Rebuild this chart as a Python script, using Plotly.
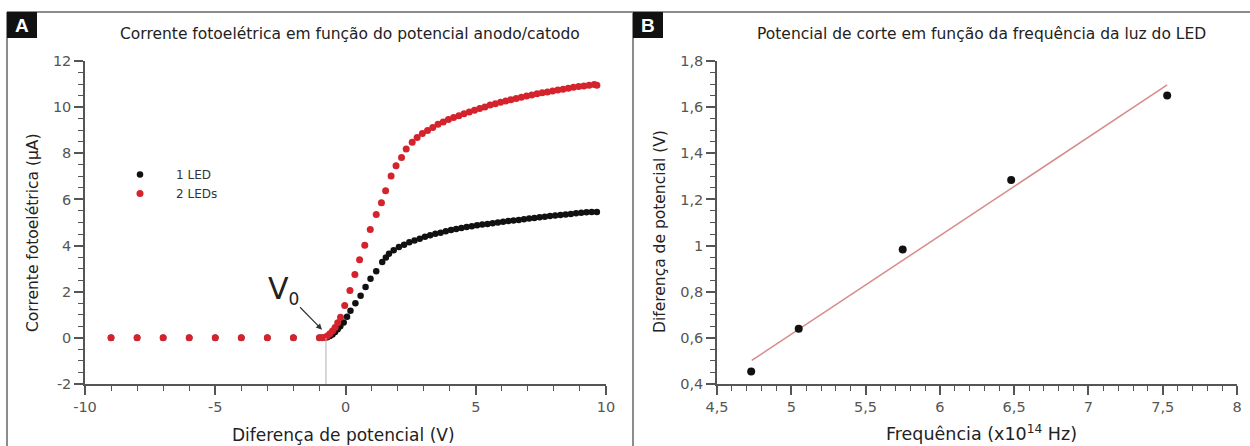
import plotly.graph_objects as go

W, H = 1250, 446

# ---------------- data: panel A ----------------
v_1led = [-9, -8, -7, -6, -5, -4, -3, -2, -1,
          -0.9, -0.8, -0.7, -0.6, -0.5, -0.4, -0.3, -0.2, -0.07, 0.06, 0.19, 0.38,
          0.58, 0.77, 0.96, 1.18, 1.41, 1.55, 1.67, 1.85, 2.05, 2.25, 2.45, 2.65,
          2.85, 3.05, 3.25, 3.45, 3.65, 3.85, 4.05, 4.25, 4.45, 4.65, 4.85, 5.05,
          5.25, 5.45, 5.65, 5.85, 6.05, 6.25, 6.45, 6.65, 6.85, 7.05, 7.25, 7.45,
          7.65, 7.85, 8.05, 8.25, 8.45, 8.65, 8.85, 9.05, 9.25, 9.45, 9.65]
i_1led = [0, 0, 0, 0, 0, 0, 0, 0, 0,
          0.0, 0.0, 0.03, 0.08, 0.15, 0.25, 0.37, 0.50, 0.67, 0.92, 1.18, 1.50,
          1.83, 2.20, 2.56, 2.89, 3.29, 3.48, 3.65, 3.80, 3.94, 4.04, 4.14, 4.22,
          4.30, 4.38, 4.45, 4.51, 4.56, 4.62, 4.68, 4.72, 4.76, 4.80, 4.84, 4.88,
          4.91, 4.94, 4.97, 5.00, 5.03, 5.06, 5.09, 5.11, 5.14, 5.17, 5.20, 5.23,
          5.25, 5.28, 5.30, 5.33, 5.35, 5.37, 5.40, 5.42, 5.44, 5.46, 5.46]

v_2leds = [-9, -8, -7, -6, -5, -4, -3, -2, -1,
           -0.9, -0.8, -0.7, -0.6, -0.5, -0.4, -0.3, -0.19, -0.03, 0.17, 0.36,
           0.54, 0.74, 0.95, 1.18, 1.38, 1.54, 1.75, 1.94, 2.15, 2.33, 2.56, 2.75,
           2.95, 3.15, 3.35, 3.55, 3.75, 3.95, 4.15, 4.35, 4.55, 4.75, 4.95, 5.15,
           5.35, 5.55, 5.75, 5.95, 6.15, 6.35, 6.55, 6.75, 6.95, 7.15, 7.35, 7.55,
           7.75, 7.95, 8.15, 8.35, 8.55, 8.75, 8.95, 9.15, 9.35, 9.55, 9.65]
i_2leds = [0, 0, 0, 0, 0, 0, 0, 0, 0,
           0.0, 0.02, 0.08, 0.18, 0.30, 0.45, 0.65, 0.89, 1.40, 2.05, 2.75,
           3.39, 4.01, 4.70, 5.35, 5.86, 6.38, 7.02, 7.46, 7.82, 8.19, 8.48, 8.68,
           8.86, 8.99, 9.12, 9.26, 9.36, 9.46, 9.55, 9.63, 9.71, 9.79, 9.86, 9.94,
           10.01, 10.09, 10.15, 10.21, 10.27, 10.32, 10.38, 10.43, 10.48, 10.53, 10.58, 10.62,
           10.66, 10.70, 10.74, 10.78, 10.82, 10.86, 10.89, 10.92, 10.95, 10.98, 10.95]

v0_value = -0.75

xa_ticks = [-10, -5, 0, 5, 10]
xa_labels = ["-10", "-5", "0", "5", "10"]
ya_ticks = [-2, 0, 2, 4, 6, 8, 10, 12]
ya_labels = ["-2", "0", "2", "4", "6", "8", "10", "12"]

# ---------------- data: panel B ----------------
freq = [4.73, 5.05, 5.75, 6.48, 7.53]
v_stop = [0.454, 0.639, 0.983, 1.284, 1.651]
fit_freq = [4.734, 7.53]
fit_v = [0.502, 1.696]

title_a = "Corrente fotoelétrica em função do potencial anodo/catodo"
title_b = "Potencial de corte em função da frequência da luz do LED"

FONT = "DejaVu Sans"
TICK_C = "#555555"
AX_C = "#555555"


def px(x):
    return x / W


def py(y):
    return 1 - y / H


fig = go.Figure()

fig.add_trace(go.Scatter(x=v_1led, y=i_1led, mode="markers", name="1 LED",
                         marker=dict(color="#111111", size=6.5),
                         xaxis="x", yaxis="y"))
fig.add_trace(go.Scatter(x=v_2leds, y=i_2leds, mode="markers", name="2 LEDs",
                         marker=dict(color="#d5232d", size=7),
                         xaxis="x", yaxis="y"))

fig.add_trace(go.Scatter(x=fit_freq, y=fit_v, mode="lines", showlegend=False,
                         line=dict(color="#d98a8a", width=1.5),
                         xaxis="x2", yaxis="y2"))
fig.add_trace(go.Scatter(x=freq, y=v_stop, mode="markers", showlegend=False,
                         marker=dict(color="#111111", size=8),
                         xaxis="x2", yaxis="y2"))

ydom = [py(384), py(61)]


def axis(domain, rng, dtick, mdtick, anchor, tickvals=None, ticktext=None):
    d = dict(domain=domain, range=rng, anchor=anchor,
             showline=True, linecolor=AX_C, linewidth=1.5,
             ticks="outside", ticklen=9, tickwidth=1.5, tickcolor=AX_C,
             minor=dict(tick0=0, dtick=mdtick, ticks="outside", ticklen=5,
                        tickwidth=1.2, tickcolor=AX_C, showgrid=False),
             showgrid=False, zeroline=False, automargin=False,
             tickfont=dict(family=FONT, size=14.5, color=TICK_C))
    if tickvals is not None:
        d.update(tickmode="array", tickvals=tickvals, ticktext=ticktext)
    else:
        d.update(tickmode="linear", tick0=0, dtick=dtick)
    return d


fig.update_layout(
    width=W, height=H,
    margin=dict(l=0, r=0, t=0, b=0),
    paper_bgcolor="white", plot_bgcolor="white",
    separators=",.",
    font=dict(family=FONT, color="#222222"),
    xaxis=axis([px(85), px(606)], [-10, 10], 5, 1, "y", xa_ticks, xa_labels),
    yaxis=axis(ydom, [-2, 12], 2, 0.5, "x", ya_ticks, ya_labels),
    xaxis2=axis([px(717), px(1237)], [4.5, 8], 0.5, 0.1, "y2"),
    yaxis2=axis(ydom, [0.4, 1.8], 0.2, 0.05, "x2"),
    showlegend=True,
    legend=dict(x=px(104), y=py(160), xanchor="left", yanchor="top",
                bgcolor="rgba(0,0,0,0)", itemwidth=62,
                font=dict(family=FONT, size=12, color="#333333")),
)

shapes = []
border = dict(color="#8c8c8c", width=2)
shapes.append(dict(type="line", xref="paper", yref="paper", x0=px(7), x1=px(7),
                   y0=py(12), y1=0, line=border))
shapes.append(dict(type="line", xref="paper", yref="paper", x0=px(7), x1=1,
                   y0=py(12), y1=py(12), line=border))
shapes.append(dict(type="line", xref="paper", yref="paper", x0=px(633), x1=px(633),
                   y0=py(12), y1=0, line=border))
for x0 in (7, 633):
    shapes.append(dict(type="rect", xref="paper", yref="paper", x0=px(x0), x1=px(x0 + 30),
                       y0=py(38), y1=py(12), fillcolor="#111111", line=dict(width=0)))
# V0 marker line
shapes.append(dict(type="line", xref="x", yref="y", x0=v0_value, x1=v0_value,
                   y0=-2, y1=0, line=dict(color="#b0b0b0", width=1)))
fig.update_layout(shapes=shapes)

ann = []
for x0, lab in ((7, "A"), (633, "B")):
    ann.append(dict(xref="paper", yref="paper", x=px(x0 + 15), y=py(25),
                    text=f"<b>{lab}</b>", showarrow=False, xanchor="center", yanchor="middle",
                    font=dict(family="Liberation Sans", size=19, color="white")))
ann.append(dict(xref="paper", yref="paper", x=px(350), y=py(34), text=title_a, showarrow=False,
                xanchor="center", yanchor="middle", font=dict(family=FONT, size=15.5, color="#222")))
ann.append(dict(xref="paper", yref="paper", x=px(981), y=py(34), text=title_b, showarrow=False,
                xanchor="center", yanchor="middle", font=dict(family=FONT, size=15.5, color="#222")))
# axis titles
ann.append(dict(xref="paper", yref="paper", x=px(343), y=py(435), text="Diferença de potencial (V)",
                showarrow=False, xanchor="center", yanchor="middle",
                font=dict(family=FONT, size=17, color="#222")))
ann.append(dict(xref="paper", yref="paper", x=px(981), y=py(433), text="Frequência (x10<sup>14</sup> Hz)",
                showarrow=False, xanchor="center", yanchor="middle",
                font=dict(family=FONT, size=17.5, color="#222")))
ann.append(dict(xref="paper", yref="paper", x=px(33), y=py(233), text="Corrente fotoelétrica (μA)",
                showarrow=False, xanchor="center", yanchor="middle", textangle=-90,
                font=dict(family=FONT, size=15.5, color="#222")))
ann.append(dict(xref="paper", yref="paper", x=px(660), y=py(232), text="Diferença de potencial (V)",
                showarrow=False, xanchor="center", yanchor="middle", textangle=-90,
                font=dict(family=FONT, size=15.5, color="#222")))
# V0 label with arrow (text centred at tail, arrow to the onset point)
ann.append(dict(xref="x", yref="y", x=-0.9, y=0.35,
                text="V<sub><span style='font-size:17px'>0</span></sub>", showarrow=True,
                axref="pixel", ayref="pixel", ax=-39, ay=-40,
                arrowhead=2, arrowsize=1, arrowwidth=1.2, arrowcolor="#333",
                font=dict(family=FONT, size=30, color="#222")))
fig.update_layout(annotations=ann)

fig.write_html("out.html")
